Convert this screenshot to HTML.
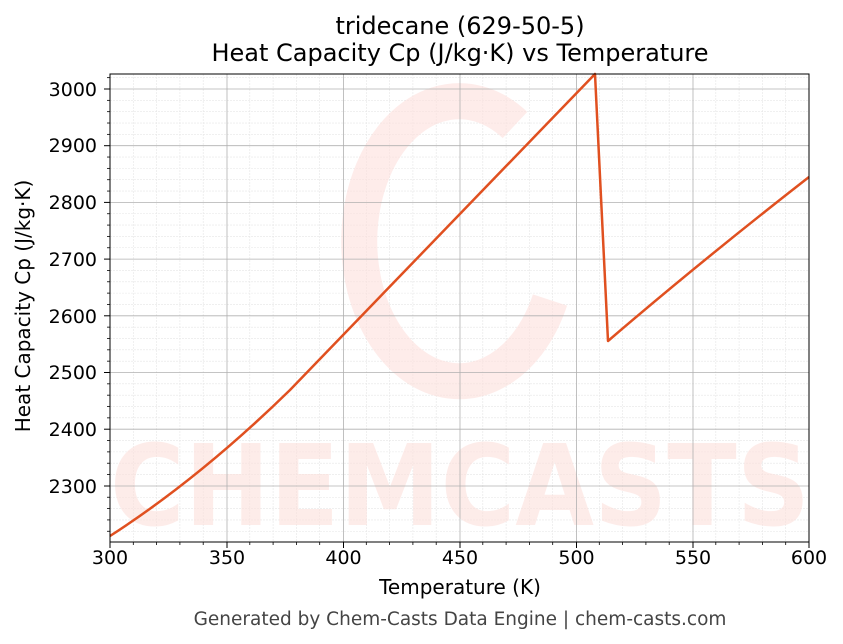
<!DOCTYPE html>
<html><head><meta charset="utf-8"><style>body{margin:0;background:#fff}svg{display:block}</style></head><body>
<svg width="843" height="644" xmlns="http://www.w3.org/2000/svg" font-family="DejaVu Sans, Liberation Sans, sans-serif">
<rect width="843" height="644" fill="#fff"/>
<g id="minor" stroke="#e6e6e6" stroke-width="0.6" stroke-dasharray="2,1">
</g>
<g opacity="0.6">
<path d="M515 125 A100 140 0 1 0 550 300" fill="none" stroke="#fde0dc" stroke-width="36"/>
<text x="460" y="525" font-size="112" font-weight="bold" fill="#fde0dc" text-anchor="middle" textLength="700" lengthAdjust="spacingAndGlyphs">CHEMCASTS</text>
</g>
<g stroke="#b0b0b0" stroke-width="0.8">
<line x1="227" y1="74" x2="227" y2="542"/><line x1="343.5" y1="74" x2="343.5" y2="542"/><line x1="460" y1="74" x2="460" y2="542"/><line x1="576.5" y1="74" x2="576.5" y2="542"/><line x1="693" y1="74" x2="693" y2="542"/>
<line x1="110" y1="89" x2="809" y2="89"/><line x1="110" y1="145.7" x2="809" y2="145.7"/><line x1="110" y1="202.4" x2="809" y2="202.4"/><line x1="110" y1="259.1" x2="809" y2="259.1"/><line x1="110" y1="315.8" x2="809" y2="315.8"/><line x1="110" y1="372.5" x2="809" y2="372.5"/><line x1="110" y1="429.2" x2="809" y2="429.2"/><line x1="110" y1="486" x2="809" y2="486"/>
</g>
<path fill="none" stroke="#e05020" stroke-width="2.5" stroke-linejoin="round" d="M110,536 Q200,478 290,390 L595,74 L608,341 Q700,262 809,177"/>
<rect x="110" y="74" width="699" height="468" fill="none" stroke="#000" stroke-width="1"/>
<g stroke="#000" stroke-width="1">
<line x1="110" y1="542" x2="110" y2="548"/><line x1="227" y1="542" x2="227" y2="548"/><line x1="343.5" y1="542" x2="343.5" y2="548"/><line x1="460" y1="542" x2="460" y2="548"/><line x1="576.5" y1="542" x2="576.5" y2="548"/><line x1="693" y1="542" x2="693" y2="548"/><line x1="809" y1="542" x2="809" y2="548"/>
<line x1="104" y1="89" x2="110" y2="89"/><line x1="104" y1="145.7" x2="110" y2="145.7"/><line x1="104" y1="202.4" x2="110" y2="202.4"/><line x1="104" y1="259.1" x2="110" y2="259.1"/><line x1="104" y1="315.8" x2="110" y2="315.8"/><line x1="104" y1="372.5" x2="110" y2="372.5"/><line x1="104" y1="429.2" x2="110" y2="429.2"/><line x1="104" y1="486" x2="110" y2="486"/>
</g>
<g id="mt" stroke="#000" stroke-width="0.8"></g>
<g font-size="19" fill="#000" text-anchor="middle">
<text x="110" y="564">300</text><text x="227" y="564">350</text><text x="343.5" y="564">400</text><text x="460" y="564">450</text><text x="576.5" y="564">500</text><text x="693" y="564">550</text><text x="809" y="564">600</text>
</g>
<g font-size="19" fill="#000" text-anchor="end">
<text x="97" y="96">3000</text><text x="97" y="152">2900</text><text x="97" y="209">2800</text><text x="97" y="266">2700</text><text x="97" y="323">2600</text><text x="97" y="379">2500</text><text x="97" y="436">2400</text><text x="97" y="493">2300</text>
</g>
<text x="460" y="594" font-size="20" text-anchor="middle">Temperature (K)</text>
<text transform="translate(30,306) rotate(-90)" font-size="20" text-anchor="middle">Heat Capacity Cp (J/kg·K)</text>
<text x="460" y="34" font-size="24" text-anchor="middle">tridecane (629-50-5)</text>
<text x="460" y="61" font-size="24" text-anchor="middle">Heat Capacity Cp (J/kg·K) vs Temperature</text>
<text x="460" y="625" font-size="18.5" fill="#444" text-anchor="middle">Generated by Chem-Casts Data Engine | chem-casts.com</text>
<script>
var g=document.getElementById('minor'),m=document.getElementById('mt'),ns='http://www.w3.org/2000/svg';
function L(p,a,b,c,d){var l=document.createElementNS(ns,'line');l.setAttribute('x1',a);l.setAttribute('y1',b);l.setAttribute('x2',c);l.setAttribute('y2',d);p.appendChild(l);}
for(var t=310;t<600;t+=10){if(t%50==0)continue;var x=110+(t-300)*699/300;L(g,x,74,x,542);L(m,x,542,x,545);}
for(var v=2220;v<=3020;v+=20){if(v%100==0)continue;var y=89+(3000-v)*0.567;L(g,110,y,809,y);L(m,107,y,110,y);}
</script>
</svg>
</body></html>
